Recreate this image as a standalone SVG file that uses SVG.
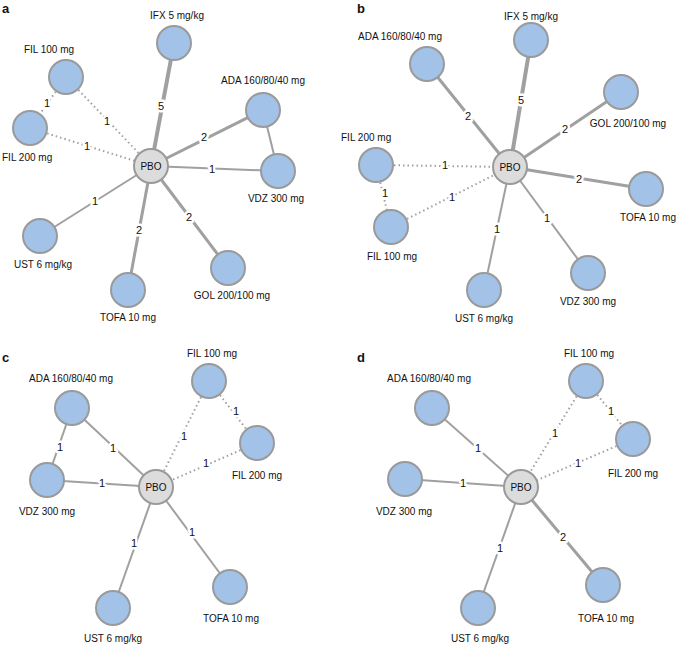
<svg xmlns="http://www.w3.org/2000/svg" width="677" height="646" viewBox="0 0 677 646">
<style>
.n{fill:#a2c2e8;stroke:#9a9a9a;stroke-width:2}
.p{fill:#dcdcdc;stroke:#9a9a9a;stroke-width:2}
.t{font-family:"Liberation Sans",Arial,sans-serif;font-size:10px;fill:#111;text-anchor:middle}
.ts{font-family:"Liberation Sans",Arial,sans-serif;font-size:10px;fill:#111}
.pl{font-family:"Liberation Sans",Arial,sans-serif;font-size:13px;font-weight:bold;fill:#111}
.e1{stroke:#a0a0a0;stroke-width:2;fill:none}
.e2{stroke:#a0a0a0;stroke-width:3;fill:none}
.e5{stroke:#a0a0a0;stroke-width:4;fill:none}
.ed{stroke:#a0a0a0;stroke-width:2;stroke-dasharray:1.5,3;fill:none}
.el{font-family:"Liberation Sans",Arial,sans-serif;font-size:11px;fill:#111;text-anchor:middle;stroke:#fff;stroke-width:5;paint-order:stroke;stroke-linejoin:round}
</style>
<rect width="677" height="646" fill="#fff"/>
<text class="pl" x="2" y="13">a</text>
<text class="pl" x="357" y="13">b</text>
<text class="pl" x="2" y="362">c</text>
<text class="pl" x="357" y="362">d</text>
<g id="connectors">
<!-- panel a -->
<line class="e5" x1="151" y1="166" x2="174" y2="43"/>
<line class="ed" x1="66" y1="77" x2="30" y2="128"/>
<line class="ed" x1="66" y1="77" x2="151" y2="166"/>
<line class="ed" x1="30" y1="128" x2="151" y2="166"/>
<line class="e2" x1="151" y1="166" x2="263" y2="110"/>
<line class="e1" x1="263" y1="110" x2="278" y2="171"/>
<line class="e1" x1="151" y1="166" x2="278" y2="171"/>
<line class="e1" x1="151" y1="166" x2="40" y2="236"/>
<line class="e2" x1="151" y1="166" x2="128" y2="290"/>
<line class="e2" x1="151" y1="166" x2="228" y2="268"/>
<text class="el" x="161" y="110">5</text>
<text class="el" x="47" y="107">1</text>
<text class="el" x="107" y="125">1</text>
<text class="el" x="87" y="150">1</text>
<text class="el" x="204" y="141">2</text>
<text class="el" x="212" y="173">1</text>
<text class="el" x="95" y="205">1</text>
<text class="el" x="139" y="234">2</text>
<text class="el" x="189" y="221">2</text>
<!-- panel b -->
<line class="e2" x1="510" y1="167" x2="427" y2="64"/>
<line class="e5" x1="510" y1="167" x2="531" y2="40"/>
<line class="e2" x1="510" y1="167" x2="621" y2="92"/>
<line class="ed" x1="376" y1="165" x2="510" y2="167"/>
<line class="ed" x1="376" y1="165" x2="391" y2="227"/>
<line class="ed" x1="391" y1="227" x2="510" y2="167"/>
<line class="e2" x1="510" y1="167" x2="646" y2="189"/>
<line class="e1" x1="510" y1="167" x2="484" y2="290"/>
<line class="e1" x1="510" y1="167" x2="588" y2="273"/>
<text class="el" x="468" y="120">2</text>
<text class="el" x="521" y="104">5</text>
<text class="el" x="565" y="133">2</text>
<text class="el" x="445" y="169">1</text>
<text class="el" x="385" y="197">1</text>
<text class="el" x="452" y="201">1</text>
<text class="el" x="579" y="183">2</text>
<text class="el" x="497" y="233">1</text>
<text class="el" x="547" y="222">1</text>
<!-- panel c -->
<line class="e1" x1="72" y1="408" x2="47" y2="480"/>
<line class="e1" x1="72" y1="408" x2="156" y2="487"/>
<line class="ed" x1="209" y1="381" x2="156" y2="487"/>
<line class="ed" x1="209" y1="381" x2="257" y2="443"/>
<line class="ed" x1="257" y1="443" x2="156" y2="487"/>
<line class="e1" x1="47" y1="480" x2="156" y2="487"/>
<line class="e1" x1="156" y1="487" x2="113" y2="608"/>
<line class="e1" x1="156" y1="487" x2="230" y2="587"/>
<text class="el" x="60" y="451">1</text>
<text class="el" x="113" y="452">1</text>
<text class="el" x="184" y="440">1</text>
<text class="el" x="236" y="415">1</text>
<text class="el" x="206" y="467">1</text>
<text class="el" x="102" y="487">1</text>
<text class="el" x="134" y="547">1</text>
<text class="el" x="192" y="536">1</text>
<!-- panel d -->
<line class="e1" x1="432" y1="408" x2="521" y2="487"/>
<line class="ed" x1="586" y1="381" x2="521" y2="487"/>
<line class="ed" x1="586" y1="381" x2="633" y2="439"/>
<line class="ed" x1="633" y1="439" x2="521" y2="487"/>
<line class="e1" x1="405" y1="479" x2="521" y2="487"/>
<line class="e2" x1="521" y1="487" x2="603" y2="585"/>
<line class="e1" x1="521" y1="487" x2="478" y2="608"/>
<text class="el" x="478" y="452">1</text>
<text class="el" x="555" y="437">1</text>
<text class="el" x="611" y="415">1</text>
<text class="el" x="578" y="467">1</text>
<text class="el" x="463" y="487">1</text>
<text class="el" x="563" y="541">2</text>
<text class="el" x="500" y="552">1</text>
</g>
<!-- panel a nodes -->
<g id="a-ifx"><circle class="n" cx="174" cy="43" r="17"/><text class="t" x="177" y="19">IFX 5 mg/kg</text></g>
<g id="a-fil100"><circle class="n" cx="66" cy="77" r="17"/><text class="t" x="49" y="53">FIL 100 mg</text></g>
<g id="a-ada"><circle class="n" cx="263" cy="110" r="17"/><text class="t" x="263" y="84">ADA 160/80/40 mg</text></g>
<g id="a-fil200"><circle class="n" cx="30" cy="128" r="17"/><text class="ts" x="2" y="161">FIL 200 mg</text></g>
<g id="a-pbo"><circle class="p" cx="151" cy="166" r="17"/><text class="t" x="151" y="170">PBO</text></g>
<g id="a-vdz"><circle class="n" cx="278" cy="171" r="17"/><text class="t" x="276" y="202">VDZ 300 mg</text></g>
<g id="a-ust"><circle class="n" cx="40" cy="236" r="17"/><text class="t" x="43" y="268">UST 6 mg/kg</text></g>
<g id="a-gol"><circle class="n" cx="228" cy="268" r="17"/><text class="t" x="232" y="299">GOL 200/100 mg</text></g>
<g id="a-tofa"><circle class="n" cx="128" cy="290" r="17"/><text class="t" x="128" y="321">TOFA 10 mg</text></g>
<!-- panel b nodes -->
<g id="b-ifx"><circle class="n" cx="531" cy="40" r="17"/><text class="t" x="531" y="20">IFX 5 mg/kg</text></g>
<g id="b-ada"><circle class="n" cx="427" cy="64" r="17"/><text class="t" x="400" y="40">ADA 160/80/40 mg</text></g>
<g id="b-gol"><circle class="n" cx="621" cy="92" r="17"/><text class="t" x="628" y="127">GOL 200/100 mg</text></g>
<g id="b-fil200"><circle class="n" cx="376" cy="165" r="17"/><text class="ts" x="341" y="141">FIL 200 mg</text></g>
<g id="b-pbo"><circle class="p" cx="510" cy="167" r="17"/><text class="t" x="510" y="171">PBO</text></g>
<g id="b-tofa"><circle class="n" cx="646" cy="189" r="17"/><text class="t" x="648" y="221">TOFA 10 mg</text></g>
<g id="b-fil100"><circle class="n" cx="391" cy="227" r="17"/><text class="t" x="392" y="260">FIL 100 mg</text></g>
<g id="b-vdz"><circle class="n" cx="588" cy="273" r="17"/><text class="t" x="588" y="305">VDZ 300 mg</text></g>
<g id="b-ust"><circle class="n" cx="484" cy="290" r="17"/><text class="t" x="484" y="322">UST 6 mg/kg</text></g>
<!-- panel c nodes -->
<g id="c-fil100"><circle class="n" cx="209" cy="381" r="17"/><text class="t" x="212" y="357">FIL 100 mg</text></g>
<g id="c-ada"><circle class="n" cx="72" cy="408" r="17"/><text class="t" x="71" y="382">ADA 160/80/40 mg</text></g>
<g id="c-fil200"><circle class="n" cx="257" cy="443" r="17"/><text class="t" x="257" y="479">FIL 200 mg</text></g>
<g id="c-pbo"><circle class="p" cx="156" cy="487" r="17"/><text class="t" x="156" y="491">PBO</text></g>
<g id="c-vdz"><circle class="n" cx="47" cy="480" r="17"/><text class="t" x="47" y="515">VDZ 300 mg</text></g>
<g id="c-tofa"><circle class="n" cx="230" cy="587" r="17"/><text class="t" x="231" y="622">TOFA 10 mg</text></g>
<g id="c-ust"><circle class="n" cx="113" cy="608" r="17"/><text class="t" x="113" y="642">UST 6 mg/kg</text></g>
<!-- panel d nodes -->
<g id="d-fil100"><circle class="n" cx="586" cy="381" r="17"/><text class="t" x="589" y="357">FIL 100 mg</text></g>
<g id="d-ada"><circle class="n" cx="432" cy="408" r="17"/><text class="t" x="429" y="382">ADA 160/80/40 mg</text></g>
<g id="d-fil200"><circle class="n" cx="633" cy="439" r="17"/><text class="t" x="633" y="477">FIL 200 mg</text></g>
<g id="d-pbo"><circle class="p" cx="521" cy="487" r="17"/><text class="t" x="521" y="491">PBO</text></g>
<g id="d-vdz"><circle class="n" cx="405" cy="479" r="17"/><text class="t" x="404" y="515">VDZ 300 mg</text></g>
<g id="d-tofa"><circle class="n" cx="603" cy="585" r="17"/><text class="t" x="606" y="622">TOFA 10 mg</text></g>
<g id="d-ust"><circle class="n" cx="478" cy="608" r="17"/><text class="t" x="480" y="642">UST 6 mg/kg</text></g>
</svg>
